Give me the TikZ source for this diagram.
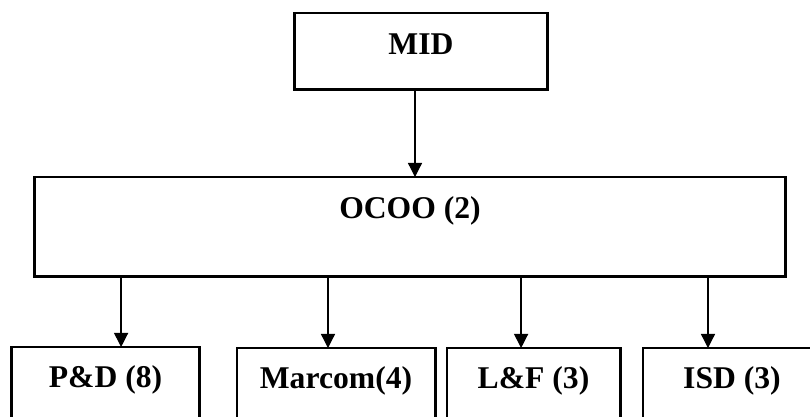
\documentclass[tikz,border=0pt]{standalone}
\usepackage{fontspec}
\setmainfont{Liberation Serif}
\usetikzlibrary{positioning,arrows.meta}

\begin{document}
\begin{tikzpicture}[x=0.025cm,y=-0.025cm,
-{Triangle[width=10pt,length=10pt]},line width=0.9pt,
unit/.style ={draw,line width=2.1pt,-,inner sep=0pt,outer sep=0pt,
font=\fontsize{22.5}{27}\selectfont\bfseries},
topunit/.style ={unit,text height=1.025cm,text depth=0.875cm},
midunit/.style ={unit,text height=1.025cm,text depth=1.45cm},
subunit/.style ={unit,text height=1cm,text depth=2cm}]
\useasboundingbox (0,0) rectangle (810,416);
\clip (0,0) rectangle (810,416);
\node[topunit,minimum width=6.3cm,anchor=north] (A) at (421,13) {MID};
\node[midunit,minimum width=18.75cm,anchor=north] (B) at (410,177) {OCOO (2)};
\node[subunit,minimum width=4.675cm,anchor=north] (C1) at (105.5,347) {P\&D (8)};
\node[subunit,minimum width=4.95cm,anchor=north] (C2) at (336,348) {Marcom(4)};
\node[subunit,minimum width=4.325cm,anchor=north] (C3) at (533.5,348) {L\&F (3)};
\node[subunit,minimum width=4.45cm,anchor=north] (C4) at (732,348) {ISD (3)};
\draw ([xshift=-0.15cm]A.south) -- ([xshift=-0.15cm]A.south |- B.north);
\draw ([xshift=0.39cm]C1.north |- B.south) -- ([xshift=0.39cm]C1.north);
\draw ([xshift=-0.2cm]C2.north |- B.south) -- ([xshift=-0.2cm]C2.north);
\draw ([xshift=-0.31cm]C3.north |- B.south) -- ([xshift=-0.31cm]C3.north);
\draw ([xshift=-0.6cm]C4.north |- B.south) -- ([xshift=-0.6cm]C4.north);
\end{tikzpicture}
\end{document}
